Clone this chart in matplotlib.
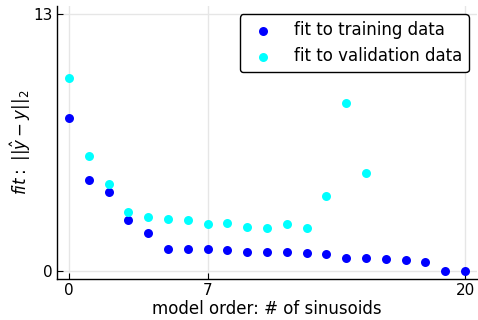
import matplotlib
matplotlib.use("Agg")
import matplotlib.pyplot as plt

# model order (number of sinusoids)
orders_train = list(range(21))
orders_val = list(range(16))

# fit error values
fit_train = [7.74, 4.6, 3.98, 2.57, 1.93, 1.11, 1.11, 1.11, 1.07, 0.99, 0.99,
             0.99, 0.91, 0.87, 0.65, 0.67, 0.60, 0.57, 0.47, 0.0, 0.0]
fit_val = [9.75, 5.84, 4.40, 2.99, 2.74, 2.65, 2.57, 2.40, 2.45, 2.23, 2.20,
           2.38, 2.20, 3.79, 8.50, 4.94]

xticks = [0, 7, 20]
yticks = [0, 13]

fig = plt.figure(figsize=(4.78, 3.2), dpi=100)
ax = fig.add_axes([57 / 478, 41 / 320, 420 / 478, 273 / 320])

ax.scatter(orders_train, fit_train, s=42, color="#0000ff", linewidths=0,
           label="fit to training data", zorder=3)
ax.scatter(orders_val, fit_val, s=42, color="#00ffff", linewidths=0,
           label="fit to validation data", zorder=3)

ax.set_xlim(-0.6, 20.6)
ax.set_ylim(-0.39, 13.39)
ax.set_xticks(xticks)
ax.set_yticks(yticks)
ax.grid(True, color="#e6e6e6", linewidth=1)
ax.set_axisbelow(True)

for side in ["top", "right"]:
  ax.spines[side].set_visible(False)
ax.spines["left"].set_linewidth(1.0)
ax.spines["bottom"].set_linewidth(1.0)
ax.tick_params(direction="in", length=4, labelsize=11, pad=3)

ax.set_xlabel("model order: # of sinusoids", fontsize=12, labelpad=1)
ax.set_ylabel(r"$fit:\ ||\hat{y}-y||_2$", fontsize=12, labelpad=0)

leg = ax.legend(loc="upper right", fontsize=12, frameon=True, fancybox=True,
                framealpha=1, edgecolor="black", borderpad=0.4,
                handlelength=2.0, handletextpad=0.85)
leg.get_frame().set_linewidth(1.0)

fig.savefig("out.png", dpi=100)
